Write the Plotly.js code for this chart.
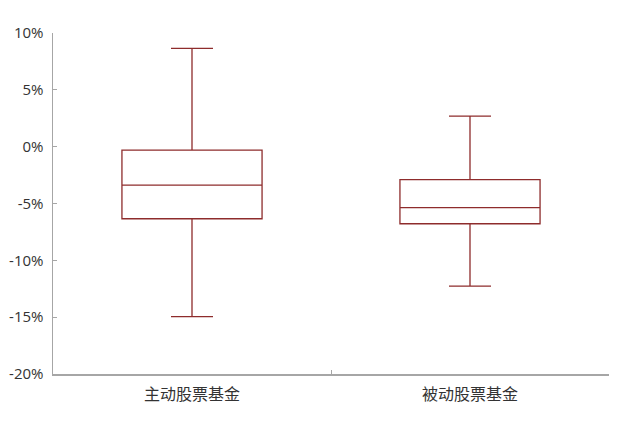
<!DOCTYPE html>
<html>
<head>
<meta charset="utf-8">
<script src="https://cdn.plot.ly/plotly-3.0.1.min.js"></script>
<style>
  html, body { margin: 0; padding: 0; background: #fff; }
  #chart { width: 625px; height: 427px; }
</style>
</head>
<body>
<div id="chart"></div>
<script>
// fund categories and box stats (fraction of 1)
const categories = ["主动股票基金", "被动股票基金"];
const upperFence = [0.0865, 0.0269];
const q3 = [-0.0030, -0.0290];
const median = [-0.0338, -0.0537];
const q1 = [-0.0634, -0.0678];
const lowerFence = [-0.1495, -0.1227];

const yTickVals = [-0.2, -0.15, -0.1, -0.05, 0, 0.05, 0.1];
const yTickText = ["-20%", "-15%", "-10%", "-5%", "0%", "5%", "10%"];

const boxColor = "#8E2C2C";
const axisColor = "#A6A6A6";
const cjkFont = "'Noto Sans CJK SC', 'Noto Sans', sans-serif";
const numFont = "'Open Sans', 'Noto Sans', sans-serif";

const data = [{
  type: "box",
  x: categories,
  q1: q1,
  median: median,
  q3: q3,
  lowerfence: lowerFence,
  upperfence: upperFence,
  width: 0.504,
  whiskerwidth: 0.3,
  line: { color: boxColor, width: 1.3 },
  fillcolor: "rgba(255,255,255,0)",
  boxpoints: false,
  hoverinfo: "skip",
  showlegend: false,
}];

const layout = {
  width: 625,
  height: 427,
  paper_bgcolor: "#fff",
  plot_bgcolor: "#fff",
  margin: { l: 53, r: 16, t: 33, b: 53 },
  font: { family: cjkFont, color: "#333", size: 15 },
  showlegend: false,
  xaxis: {
    type: "category",
    range: [-0.5, 1.5],
    showline: true,
    linecolor: axisColor,
    linewidth: 1.5,
    showgrid: false,
    zeroline: false,
    tickson: "boundaries",
    ticks: "inside",
    ticklen: 4,
    tickcolor: axisColor,
    ticklabelstandoff: 5,
    tickfont: { family: cjkFont, size: 16, color: "#333" },
  },
  yaxis: {
    range: [-0.2, 0.1],
    tickmode: "array",
    tickvals: yTickVals,
    ticktext: yTickText,
    showline: true,
    linecolor: axisColor,
    linewidth: 1.5,
    showgrid: false,
    zeroline: false,
    ticks: "inside",
    ticklen: 4,
    tickcolor: axisColor,
    ticklabelstandoff: 5,
    tickfont: { family: numFont, size: 15, color: "#333" },
  },
};

Plotly.newPlot("chart", data, layout, { staticPlot: true, displayModeBar: false });
</script>
</body>
</html>
